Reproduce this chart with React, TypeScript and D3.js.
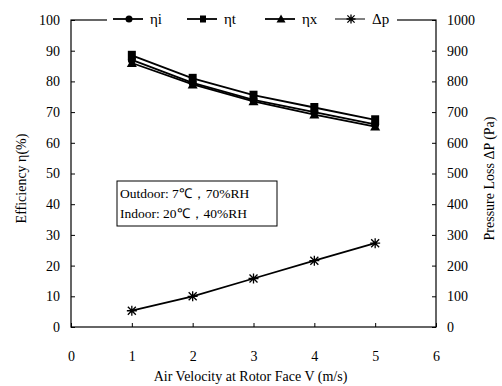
import React, { useEffect, useRef } from 'react';
import * as d3 from 'd3';

const velocities = [1, 2, 3, 4, 5];
const etaI = [87, 79.5, 74, 70, 66];
const etaT = [88.5, 81, 75.5, 71.5, 67.5];
const etaX = [86, 79, 73.5, 69.2, 65.3];
const pressure = [53, 100, 158, 216, 273];

const xTicks = [0, 1, 2, 3, 4, 5, 6];
const yTicks = [0, 10, 20, 30, 40, 50, 60, 70, 80, 90, 100];
const y2Ticks = [0, 100, 200, 300, 400, 500, 600, 700, 800, 900, 1000];

const legendLabels = ['ηi', 'ηt', 'ηx', 'Δp'];
const noteLines = ['Outdoor: 7℃，70%RH', 'Indoor: 20℃，40%RH'];

const FONT = 'Liberation Serif';

export default function App() {
  const svgRef = useRef<SVGSVGElement>(null);

  useEffect(() => {
    if (!svgRef.current) return;
    const svg = d3.select(svgRef.current);
    svg.selectAll('*').remove();

    const width = 502;
    const height = 386;
    const margin = { top: 20, right: 66, bottom: 59, left: 71 };
    const innerW = width - margin.left - margin.right;
    const innerH = height - margin.top - margin.bottom;

    svg.attr('width', width).attr('height', height).attr('font-family', FONT);
    svg.append('rect').attr('width', width).attr('height', height).attr('fill', '#fff');

    const g = svg.append('g').attr('transform', `translate(${margin.left},${margin.top})`);

    const x = d3.scaleLinear().domain([0, 6]).range([0, innerW]);
    const y = d3.scaleLinear().domain([0, 100]).range([innerH, 0]);
    const y2 = d3.scaleLinear().domain([0, 1000]).range([innerH, 0]);

    // frame
    g.append('rect')
      .attr('width', innerW).attr('height', innerH)
      .attr('fill', 'none').attr('stroke', '#000').attr('stroke-width', 1.2);

    const styleAxis = (ax: d3.Selection<SVGGElement, unknown, null, undefined>) => {
      ax.attr('font-family', FONT).attr('font-size', 14);
      ax.select('.domain').remove();
      ax.selectAll('.tick line').attr('stroke', '#000');
      ax.selectAll('.tick text').attr('fill', '#000').attr('font-family', FONT).attr('font-size', 14);
    };

    // left axis
    const left = g.append('g').call(d3.axisLeft(y).tickValues(yTicks).tickSize(-4).tickPadding(11));
    styleAxis(left);

    // right axis
    const right = g.append('g').attr('transform', `translate(${innerW},0)`)
      .call(d3.axisRight(y2).tickValues(y2Ticks).tickFormat(d3.format('d')).tickSize(-4).tickPadding(11));
    styleAxis(right);

    // bottom axis
    const bottom = g.append('g').attr('transform', `translate(0,${innerH})`)
      .call(d3.axisBottom(x).tickValues(xTicks).tickFormat(d3.format('d')).tickSize(-4).tickPadding(24));
    styleAxis(bottom);

    const addText = (sel: any, t: string, size = 14) =>
      sel.append('text').attr('font-family', FONT).attr('font-size', size).attr('fill', '#000').text(t);

    // axis titles
    addText(svg, 'Air Velocity at Rotor Face V (m/s)')
      .attr('x', margin.left + innerW / 2 - 3).attr('y', 381).attr('text-anchor', 'middle');
    addText(svg, 'Efficiency η(%)')
      .attr('transform', `translate(26,${margin.top + innerH / 2 + 5}) rotate(-90)`)
      .attr('text-anchor', 'middle');
    addText(svg, 'Pressure Loss ΔP (Pa)')
      .attr('transform', `translate(494,${margin.top + innerH / 2 + 5}) rotate(-90)`)
      .attr('text-anchor', 'middle');

    const line = d3.line<number>().x((_, i) => x(velocities[i]));

    const drawCircle = (sel: any, cx: number, cy: number, r = 4) =>
      sel.append('circle').attr('cx', cx).attr('cy', cy).attr('r', r).attr('fill', '#000');
    const drawSquare = (sel: any, cx: number, cy: number, s = 4) =>
      sel.append('rect').attr('x', cx - s).attr('y', cy - s - 0.5).attr('width', 2 * s).attr('height', 2 * s + 1).attr('fill', '#000');
    const drawTriangle = (sel: any, cx: number, cy: number, s = 5) =>
      sel.append('path').attr('d', `M${cx},${cy - s}L${cx + s},${cy + s * 0.8}L${cx - s},${cy + s * 0.8}Z`).attr('fill', '#000');
    const drawStar = (sel: any, cx: number, cy: number, s = 5) =>
      sel.append('path')
        .attr('d', `M${cx - s},${cy}L${cx + s},${cy}M${cx},${cy - s}L${cx},${cy + s}M${cx - s * 0.8},${cy - s * 0.8}L${cx + s * 0.8},${cy + s * 0.8}M${cx - s * 0.8},${cy + s * 0.8}L${cx + s * 0.8},${cy - s * 0.8}`)
        .attr('stroke', '#000').attr('stroke-width', 1.3).attr('fill', 'none');

    const series = [
      { vals: etaX, scale: y, marker: drawTriangle },
      { vals: etaI, scale: y, marker: drawCircle },
      { vals: etaT, scale: y, marker: drawSquare },
      { vals: pressure, scale: y2, marker: drawStar },
    ];

    series.forEach(s => {
      const sg = g.append('g');
      sg.append('path')
        .attr('d', line.y(v => s.scale(v))(s.vals))
        .attr('fill', 'none').attr('stroke', '#000').attr('stroke-width', 1.8);
      s.vals.forEach((v, i) => s.marker(sg, x(velocities[i]), s.scale(v)));
    });

    // legend
    const lg = svg.append('g');
    lg.append('rect').attr('x', 107).attr('y', 11).attr('width', 290).attr('height', 18).attr('fill', '#fff');
    const legendX = [113, 187, 265, 335];
    const markers = [drawCircle, drawSquare, drawTriangle, drawStar];
    const legendSizes = [3.5, 3, 4.5, 4.5];
    legendLabels.forEach((lab, i) => {
      const lx = legendX[i];
      lg.append('line').attr('x1', lx).attr('x2', lx + 30).attr('y1', 19).attr('y2', 19)
        .attr('stroke', '#000').attr('stroke-width', i === 3 ? 1 : 1.8);
      markers[i](lg, lx + 16, 19, legendSizes[i]);
      addText(lg, lab, 15).attr('x', lx + 37).attr('y', 24);
    });

    // note box
    const nb = svg.append('g');
    nb.append('rect').attr('x', 117).attr('y', 181).attr('width', 160).attr('height', 45)
      .attr('fill', '#fff').attr('stroke', '#000').attr('stroke-width', 1);
    noteLines.forEach((t, i) => {
      addText(nb, t, 13.5).attr('x', 120).attr('y', 198 + i * 20);
    });
  }, []);

  return (
    <svg ref={svgRef} style={{ position: 'absolute', left: 0, top: 0, display: 'block' }} />
  );
}
